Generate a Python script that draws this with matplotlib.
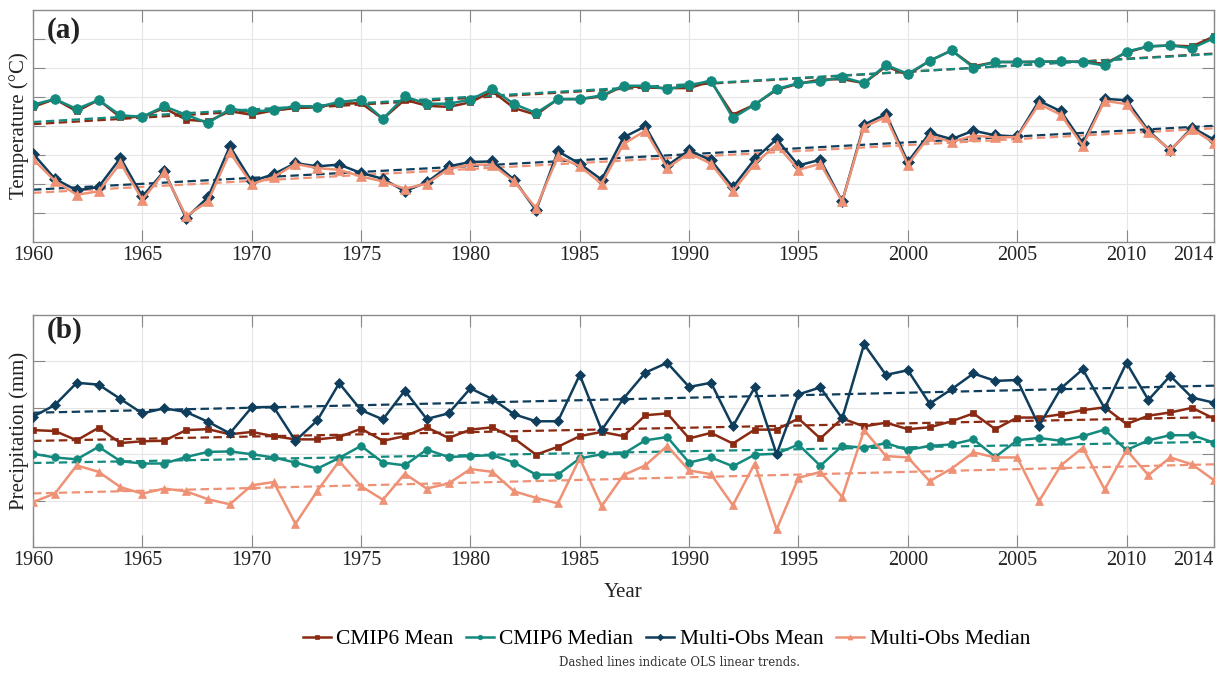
import numpy as np
import matplotlib
matplotlib.use("Agg")
import matplotlib.pyplot as plt

plt.rcParams['font.family'] = ['Liberation Serif', 'DejaVu Serif']
plt.rcParams['mathtext.fontset'] = 'stix'

years = np.arange(1960, 2015)
xticks = [1960, 1965, 1970, 1975, 1980, 1985, 1990, 1995, 2000, 2005, 2010, 2014]

# (a) temperature, units of one gridline step (tick labels are hidden in the original)
temp_cmip_mean = [4.66, 4.93, 4.51, 4.90, 4.30, 4.32, 4.62, 4.22, 4.16, 4.51,
                  4.39, 4.54, 4.62, 4.66, 4.77, 4.79, 4.25, 4.91, 4.70, 4.66,
                  4.82, 5.20, 4.62, 4.39, 4.93, 4.93, 5.02, 5.39, 5.33, 5.31,
                  5.31, 5.54, 4.39, 4.74, 5.25, 5.46, 5.60, 5.62, 5.48, 6.06,
                  5.77, 6.25, 6.61, 6.06, 6.21, 6.21, 6.22, 6.23, 6.21, 6.15,
                  6.54, 6.75, 6.78, 6.75, 7.09]
temp_cmip_median = [4.74, 4.93, 4.59, 4.90, 4.37, 4.32, 4.68, 4.39, 4.10, 4.59,
                    4.51, 4.54, 4.70, 4.66, 4.83, 4.91, 4.25, 5.02, 4.77, 4.77,
                    4.91, 5.28, 4.76, 4.45, 4.93, 4.93, 5.06, 5.39, 5.39, 5.28,
                    5.40, 5.57, 4.28, 4.74, 5.28, 5.48, 5.54, 5.69, 5.48, 6.11,
                    5.80, 6.25, 6.61, 6.02, 6.21, 6.21, 6.22, 6.23, 6.21, 6.09,
                    6.57, 6.75, 6.78, 6.69, 7.03]
temp_obs_mean = [3.05, 2.18, 1.78, 1.90, 2.90, 1.57, 2.44, 0.83, 1.54, 3.30,
                 2.09, 2.34, 2.72, 2.61, 2.67, 2.38, 2.18, 1.75, 2.06, 2.61,
                 2.76, 2.78, 2.15, 1.09, 3.13, 2.70, 2.15, 3.61, 3.99, 2.64,
                 3.16, 2.82, 1.89, 2.86, 3.55, 2.64, 2.84, 1.40, 4.05, 4.41,
                 2.76, 3.76, 3.55, 3.84, 3.68, 3.64, 4.87, 4.51, 3.41, 4.94,
                 4.89, 3.84, 3.16, 3.95, 3.53]
temp_obs_median = [2.86, 2.11, 1.63, 1.75, 2.72, 1.46, 2.40, 0.89, 1.40, 3.09,
                   2.00, 2.24, 2.69, 2.55, 2.49, 2.26, 2.09, 1.84, 2.01, 2.52,
                   2.67, 2.67, 2.09, 1.17, 2.95, 2.61, 2.01, 3.38, 3.84, 2.55,
                   3.07, 2.70, 1.75, 2.70, 3.36, 2.49, 2.70, 1.40, 3.97, 4.31,
                   2.67, 3.67, 3.45, 3.67, 3.61, 3.62, 4.76, 4.39, 3.32, 4.87,
                   4.76, 3.79, 3.18, 3.90, 3.41]

# (b) precipitation, units of one gridline step
prec_cmip_mean = [2.52, 2.50, 2.30, 2.57, 2.24, 2.28, 2.29, 2.52, 2.54, 2.43,
                  2.48, 2.39, 2.32, 2.32, 2.37, 2.55, 2.29, 2.39, 2.58, 2.35,
                  2.53, 2.58, 2.34, 1.99, 2.16, 2.39, 2.48, 2.39, 2.84, 2.88,
                  2.34, 2.46, 2.23, 2.53, 2.53, 2.77, 2.34, 2.77, 2.60, 2.68,
                  2.54, 2.58, 2.71, 2.88, 2.54, 2.79, 2.79, 2.86, 2.95, 3.01,
                  2.65, 2.83, 2.90, 3.00, 2.77]
prec_cmip_median = [2.01, 1.93, 1.89, 2.16, 1.85, 1.80, 1.80, 1.94, 2.05, 2.06,
                    2.00, 1.93, 1.82, 1.69, 1.92, 2.18, 1.82, 1.76, 2.10, 1.94,
                    1.96, 1.98, 1.82, 1.56, 1.56, 1.91, 2.00, 2.01, 2.30, 2.37,
                    1.82, 1.93, 1.74, 1.99, 2.01, 2.21, 1.75, 2.18, 2.14, 2.24,
                    2.09, 2.18, 2.21, 2.32, 1.94, 2.30, 2.35, 2.29, 2.39, 2.53,
                    2.09, 2.30, 2.41, 2.41, 2.25]
prec_obs_mean = [2.81, 3.06, 3.54, 3.50, 3.19, 2.88, 2.99, 2.91, 2.70, 2.45,
                 3.01, 3.02, 2.29, 2.73, 3.53, 2.95, 2.75, 3.37, 2.76, 2.88,
                 3.42, 3.19, 2.86, 2.71, 2.71, 3.71, 2.52, 3.20, 3.76, 3.97,
                 3.45, 3.54, 2.60, 3.44, 2.00, 3.29, 3.44, 2.77, 4.37, 3.71,
                 3.81, 3.09, 3.40, 3.74, 3.58, 3.60, 2.61, 3.42, 3.83, 2.99,
                 3.97, 3.17, 3.69, 3.22, 3.11]
prec_obs_median = [0.97, 1.15, 1.76, 1.62, 1.29, 1.15, 1.26, 1.20, 1.03, 0.92,
                   1.33, 1.40, 0.50, 1.21, 1.85, 1.31, 1.02, 1.58, 1.26, 1.37,
                   1.68, 1.62, 1.20, 1.06, 0.94, 1.91, 0.88, 1.55, 1.76, 2.18,
                   1.65, 1.57, 0.90, 1.80, 0.38, 1.49, 1.62, 1.08, 2.52, 1.96,
                   1.93, 1.42, 1.69, 2.04, 1.93, 1.93, 0.99, 1.76, 2.14, 1.24,
                   2.09, 1.55, 1.93, 1.78, 1.44]

names = ['CMIP6 Mean', 'CMIP6 Median', 'Multi-Obs Mean', 'Multi-Obs Median']
colors = ['#8a2a12', '#14897e', '#0f3d5c', '#ee9175']
markers = ['s', 'o', 'D', '^']

fig = plt.figure(figsize=(12.27, 6.75), dpi=100)
ax_a = fig.add_axes([0.0269, 0.6415, 0.9625, 0.3435])
ax_b = fig.add_axes([0.0269, 0.1896, 0.9625, 0.3437])


def draw(ax, series, msizes, ylim, nticks):
    for vals, c, m, ms, lab in zip(series, colors, markers, msizes, names):
        vals = np.array(vals)
        ax.plot(years, vals, color=c, marker=m, ms=ms, lw=1.8,
                markeredgewidth=0.5, label=lab, zorder=3)
        k, b = np.polyfit(years, vals, 1)
        ax.plot(years, k * years + b, color=c, lw=1.6,
                linestyle=(0, (3.8, 2.0)), zorder=2)
    ax.set_xlim(1960, 2014)
    ax.set_ylim(*ylim)
    ax.set_xticks(xticks)
    ax.set_yticks(np.arange(1, nticks))
    ax.set_yticklabels([])
    ax.grid(True, color='#e6e6e6', lw=0.8)
    ax.set_axisbelow(True)
    ax.tick_params(direction='in', length=8.5, width=0.8, color='#888888',
                   top=True, right=True, labelsize=14.5, labelcolor='#222222', pad=3)
    ax.get_xticklabels()[-1].set_horizontalalignment('right')
    for s in ax.spines.values():
        s.set_color('#8a8a8a')
        s.set_linewidth(1.0)
    ax.yaxis.set_label_coords(-0.003, 0.5)


draw(ax_a, [temp_cmip_mean, temp_cmip_median, temp_obs_mean, temp_obs_median],
     [5, 7, 6, 7.5], (0, 8), 8)
draw(ax_b, [prec_cmip_mean, prec_cmip_median, prec_obs_mean, prec_obs_median],
     [4.5, 5.5, 5.5, 6], (0, 5), 5)

ax_a.set_ylabel('Temperature (°C)', fontsize=15, color='#222222')
ax_b.set_ylabel('Precipitation (mm)', fontsize=15, color='#222222')
ax_b.set_xlabel('Year', fontsize=15, labelpad=9, color='#222222')

ax_a.text(0.012, 0.912, '(a)', transform=ax_a.transAxes, fontsize=21,
          fontweight='bold', ha='left', va='center', color='#222222')
ax_b.text(0.012, 0.932, '(b)', transform=ax_b.transAxes, fontsize=21,
          fontweight='bold', ha='left', va='center', color='#222222')

handles, labels = ax_b.get_legend_handles_labels()
leg = fig.legend(handles, labels, loc='center', bbox_to_anchor=(0.543, 0.053),
                 ncol=4, frameon=False, fontsize=15.5, handlelength=1.3,
                 handletextpad=0.25, columnspacing=0.6, markerscale=0.6)
fig.text(0.554, 0.018, 'Dashed lines indicate OLS linear trends.', ha='center',
         va='center', fontsize=8.5, color='#333333', family='DejaVu Serif')

fig.savefig('out.png', dpi=100)
